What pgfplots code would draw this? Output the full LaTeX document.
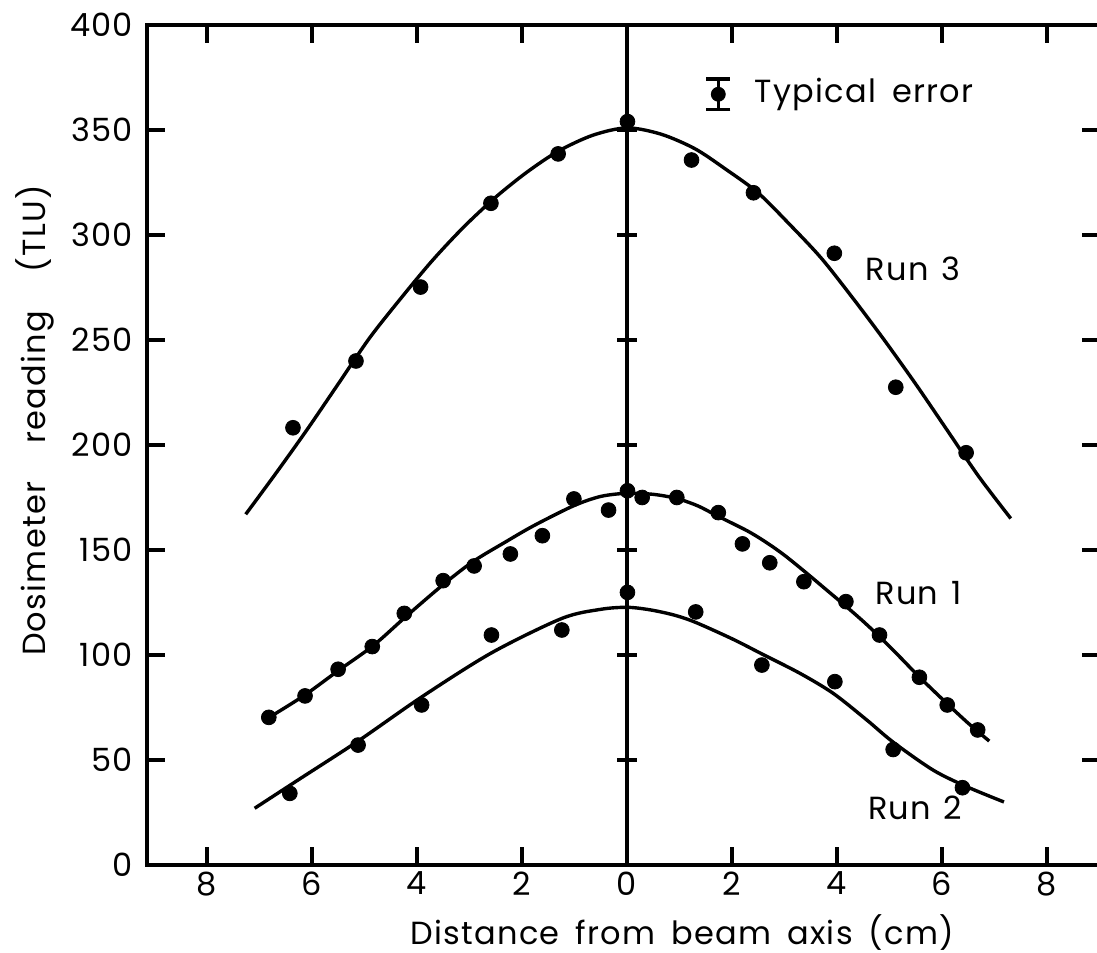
\documentclass[border=0pt]{standalone}
\usepackage{fontspec}
\setmainfont{Poppins}[LetterSpace=4]
\usepackage{pgfplots}
\pgfplotsset{compat=1.18}

\pgfplotstableread{
x y
-6.36 208.2
-5.16 240.0
-3.93 275.2
-2.59 315.1
-1.31 338.6
0.01 354.0
1.23 335.7
2.41 320.1
3.95 291.3
5.12 227.5
6.46 196.3
}\runthree

\pgfplotstableread{
x y
-6.82 70.3
-6.13 80.5
-5.50 93.2
-4.85 104.0
-4.24 119.8
-3.50 135.4
-2.91 142.4
-2.22 148.1
-1.61 156.8
-1.01 174.3
-0.35 169.0
0.01 178.2
0.29 175.0
0.95 175.0
1.74 167.8
2.20 152.9
2.72 143.9
3.37 134.9
4.17 125.4
4.81 109.5
5.57 89.4
6.10 76.2
6.68 64.3
}\runone

\pgfplotstableread{
x y
-6.42 34.1
-5.12 57.1
-3.91 76.2
-2.58 109.5
-1.24 111.9
0.01 129.8
1.31 120.5
2.57 95.2
3.96 87.3
5.07 55.0
6.39 36.8
}\runtwo

\begin{document}
\begin{tikzpicture}
\begin{axis}[
  scale only axis,
  width=476.25pt, height=420pt,
  xmin=-9.14, xmax=9.0, ymin=0, ymax=400,
  xtick={-8,-6,-4,-2,0,2,4,6,8},
  xticklabels={8,6,4,2,0,2,4,6,8},
  ytick={0,50,...,400},
  major tick length=9pt,
  tick style={line width=1.7pt, black},
  axis line style={line width=1.7pt},
  /pgf/number format/assume math mode=true,
  tick label style={font=\fontsize{16}{18}\selectfont},
  yticklabel style={xshift=-3.5pt},
  label style={font=\fontsize{16}{18}\selectfont},
  xlabel={Distance\hspace{0.5em}from\hspace{0.5em}beam\hspace{0.5em}axis\hspace{0.5em}(cm)},
  ylabel={Dosimeter\hspace{1.2em}reading\hspace{1.2em}(TLU)},
  x label style={at={(axis description cs:0.562,-0.095)}, anchor=base},
  y label style={at={(axis description cs:-0.118,0.529)}, anchor=center},
  clip=false,
]
% centre line with crossing ticks
\addplot[black, line width=1.7pt] coordinates {(0,0) (0,400)};
\addplot[only marks, mark=-, mark size=5pt, mark options={line width=1.7pt}]
  coordinates {(0,50) (0,100) (0,150) (0,200) (0,250) (0,300) (0,350)};

% fitted curves
\addplot[black, line width=1.7pt, smooth] coordinates {
(-7.26,167) (-6.7,186) (-6.1,207) (-5.5,229) (-4.9,251) (-4.3,270)
(-3.7,288) (-3.1,304) (-2.5,318) (-1.9,330) (-1.3,340) (-0.65,347.5)
(0,351) (0.65,348) (1.3,341) (1.9,331) (2.5,320) (3.1,305) (3.7,289)
(4.3,270) (4.9,250) (5.5,229) (6.1,207) (6.7,185) (7.31,165)};
\addplot[black, line width=1.7pt, smooth] coordinates {
(-6.70,72) (-6.13,81) (-5.50,92.5) (-4.83,104.5) (-4.2,118.5) (-3.5,133.5)
(-2.93,144.5) (-2.3,154) (-1.78,161.5) (-1.02,171) (-0.5,175.5) (0,177)
(0.5,176.5) (0.95,174.5) (1.35,171) (1.74,166) (2.3,159) (2.66,153.5)
(3.0,147.5) (3.42,139) (3.8,131) (4.18,123) (4.5,116) (4.82,108.5)
(5.2,99) (5.57,89.5) (6.09,77) (6.5,67.5) (6.90,59)};
\addplot[black, line width=1.7pt, smooth] coordinates {
(-7.09,27) (-6.23,41) (-5.12,59) (-3.91,80) (-2.58,101) (-1.24,117.4)
(-0.51,121.7) (0,122.7) (0.44,121.5) (0.9,119) (1.31,115.5) (2.02,107.5)
(2.57,100.5) (3.30,91.2) (3.93,81.7) (4.57,69) (5.07,58.5) (5.83,45.2)
(6.47,37.3) (7.18,30)};

% measurements
\addplot[only marks, mark=*, mark size=3.7pt, black] table {\runthree};
\addplot[only marks, mark=*, mark size=3.7pt, black] table {\runone};
\addplot[only marks, mark=*, mark size=3.7pt, black] table {\runtwo};

% typical error
\addplot[only marks, mark=*, mark size=3.5pt, black,
  error bars/.cd, y dir=both, y explicit,
  error bar style={line width=1.7pt},
  error mark options={rotate=90, mark size=6pt, line width=1.7pt}]
  coordinates {(1.74,367) +- (0,7.2)};
\node[anchor=west, font=\fontsize{16}{18}\selectfont] at (axis cs:2.30,367) {Typical\hspace{0.5em}error};

\node[font=\fontsize{16}{18}\selectfont] at (axis cs:5.45,284) {Run\hspace{0.4em}3};
\node[font=\fontsize{16}{18}\selectfont] at (axis cs:5.55,129.5) {Run\hspace{0.4em}1};
\node[font=\fontsize{16}{18}\selectfont] at (axis cs:5.49,27) {Run\hspace{0.4em}2};
\end{axis}
\pgfresetboundingbox
\path[use as bounding box]
  ([xshift=-73.5pt,yshift=-44pt]current axis.south west)
  rectangle ([xshift=-1.25pt,yshift=12.5pt]current axis.north east);
\end{tikzpicture}
\end{document}
